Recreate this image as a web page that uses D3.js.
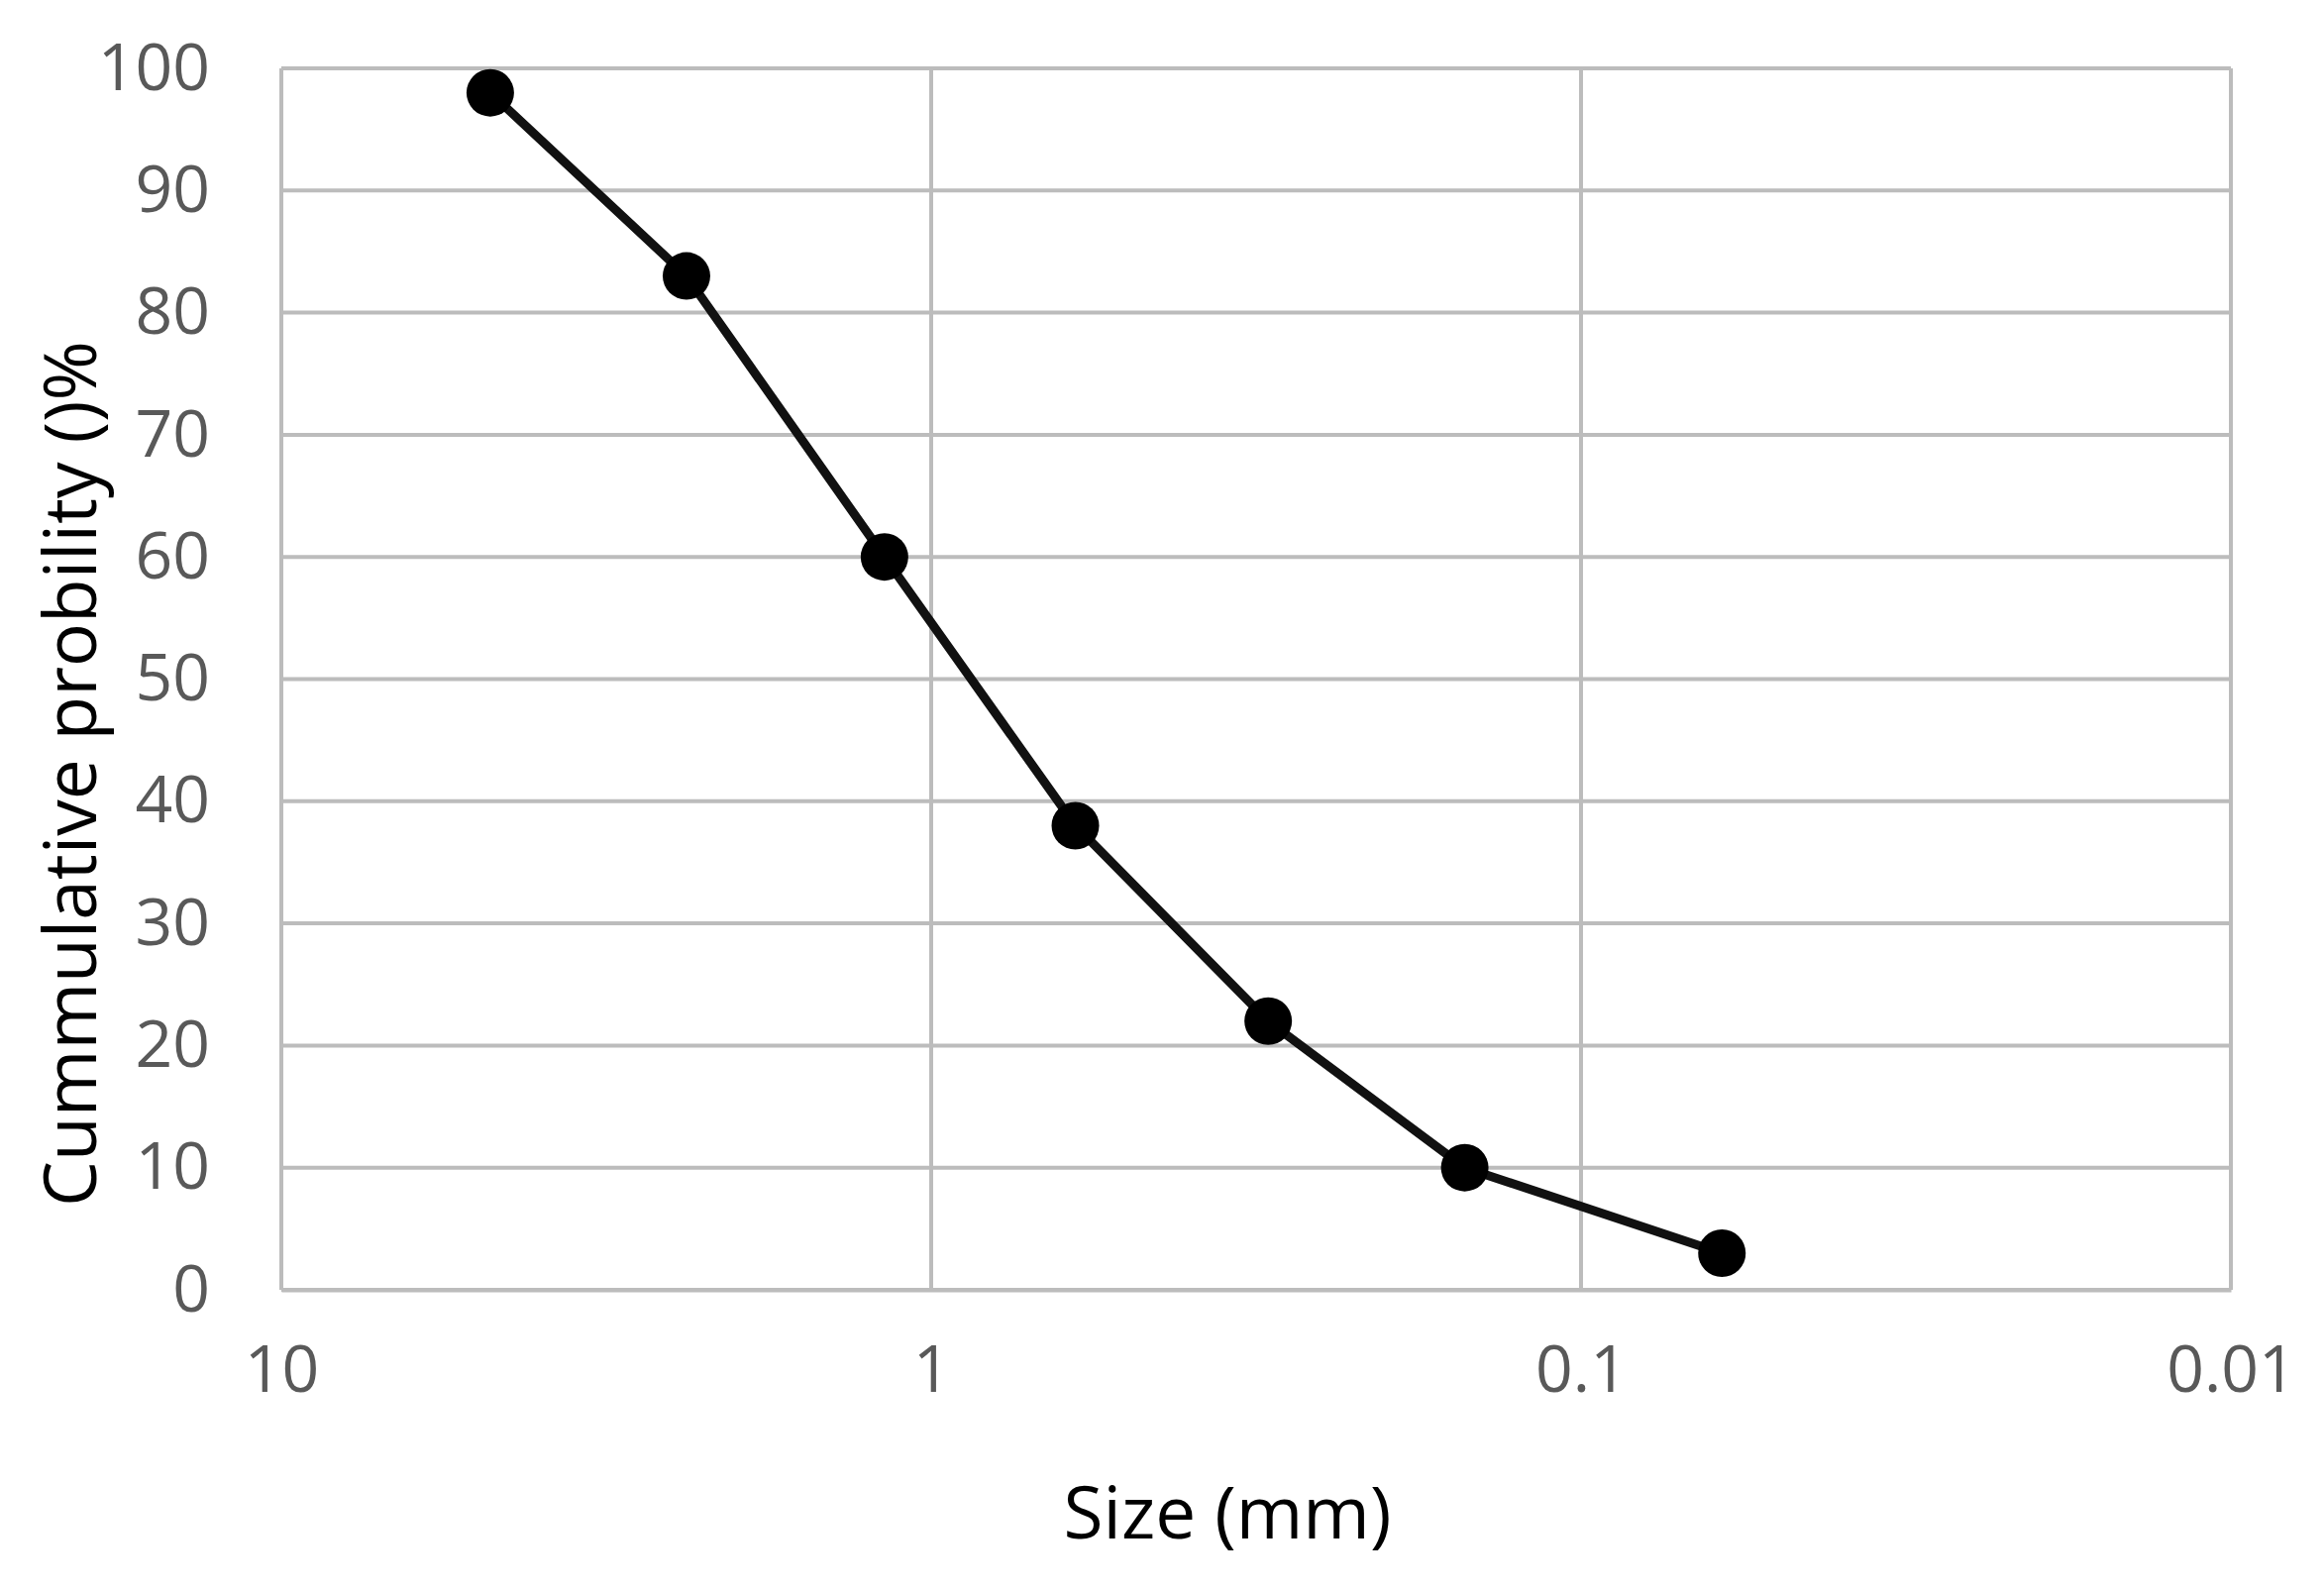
<!DOCTYPE html>
<html><head><meta charset="utf-8">
<script src="https://cdn.jsdelivr.net/npm/d3@7"></script>
<style>body{margin:0;background:#fff}</style></head>
<body><svg id="c" width="2346" height="1605"></svg>
<script>
const sizes = [4.77, 2.38, 1.18, 0.60, 0.303, 0.151, 0.0607];
const cumulative = [98, 83, 60, 38, 22, 10, 3];
const xTicks = [10, 1, 0.1, 0.01];
const xTickLabels = ["10", "1", "0.1", "0.01"];
const yTicks = [0,10,20,30,40,50,60,70,80,90,100];

const svg = d3.select("#c");
const L=284,R=2252,T=69,B=1302;
const x = d3.scaleLog().domain([10,0.01]).range([L,R]);
const y = d3.scaleLinear().domain([0,100]).range([B,T]);
const font = "'Open Sans', 'Liberation Sans', sans-serif";

const g = svg.append("g");
g.selectAll("line.h").data(yTicks).enter().append("line")
 .attr("x1",L).attr("x2",R).attr("y1",d=>y(d)).attr("y2",d=>y(d))
 .attr("stroke","#bcbcbc").attr("stroke-width",4);
g.selectAll("line.v").data(xTicks).enter().append("line")
 .attr("x1",d=>x(d)).attr("x2",d=>x(d)).attr("y1",T).attr("y2",B)
 .attr("stroke","#bcbcbc").attr("stroke-width",4);

const xa = svg.append("g").attr("transform",`translate(0,${B})`)
 .call(d3.axisBottom(x).tickValues(xTicks).tickFormat((d,i)=>xTickLabels[i]).tickSize(0).tickPadding(56));
xa.select(".domain").attr("stroke","#bcbcbc").attr("stroke-width",4);
xa.selectAll("text").attr("font-family",font).attr("font-size",66).attr("fill","#595959");
const ya = svg.append("g").attr("transform",`translate(${L},0)`)
 .call(d3.axisLeft(y).tickValues(yTicks).tickSize(0).tickPadding(72));
ya.select(".domain").remove();
ya.selectAll("text").attr("font-family",font).attr("font-size",66).attr("fill","#595959");

const pts = sizes.map((s,i)=>[s,cumulative[i]]);
svg.append("path").datum(pts)
 .attr("d",d3.line().x(d=>x(d[0])).y(d=>y(d[1])))
 .attr("fill","none").attr("stroke","#111").attr("stroke-width",9);
svg.selectAll("circle").data(pts).enter().append("circle")
 .attr("cx",d=>x(d[0])).attr("cy",d=>y(d[1])).attr("r",24).attr("fill","#000");

svg.append("text").attr("x",1239).attr("y",1553).attr("text-anchor","middle")
 .attr("font-family",font).attr("font-size",73).attr("fill","#000").text("Size (mm)");
svg.append("text").attr("transform",`translate(97,781) rotate(-90)`).attr("text-anchor","middle")
 .attr("font-family",font).attr("font-size",73).attr("fill","#000").text("Cummulative probility ()%");
</script></body></html>
